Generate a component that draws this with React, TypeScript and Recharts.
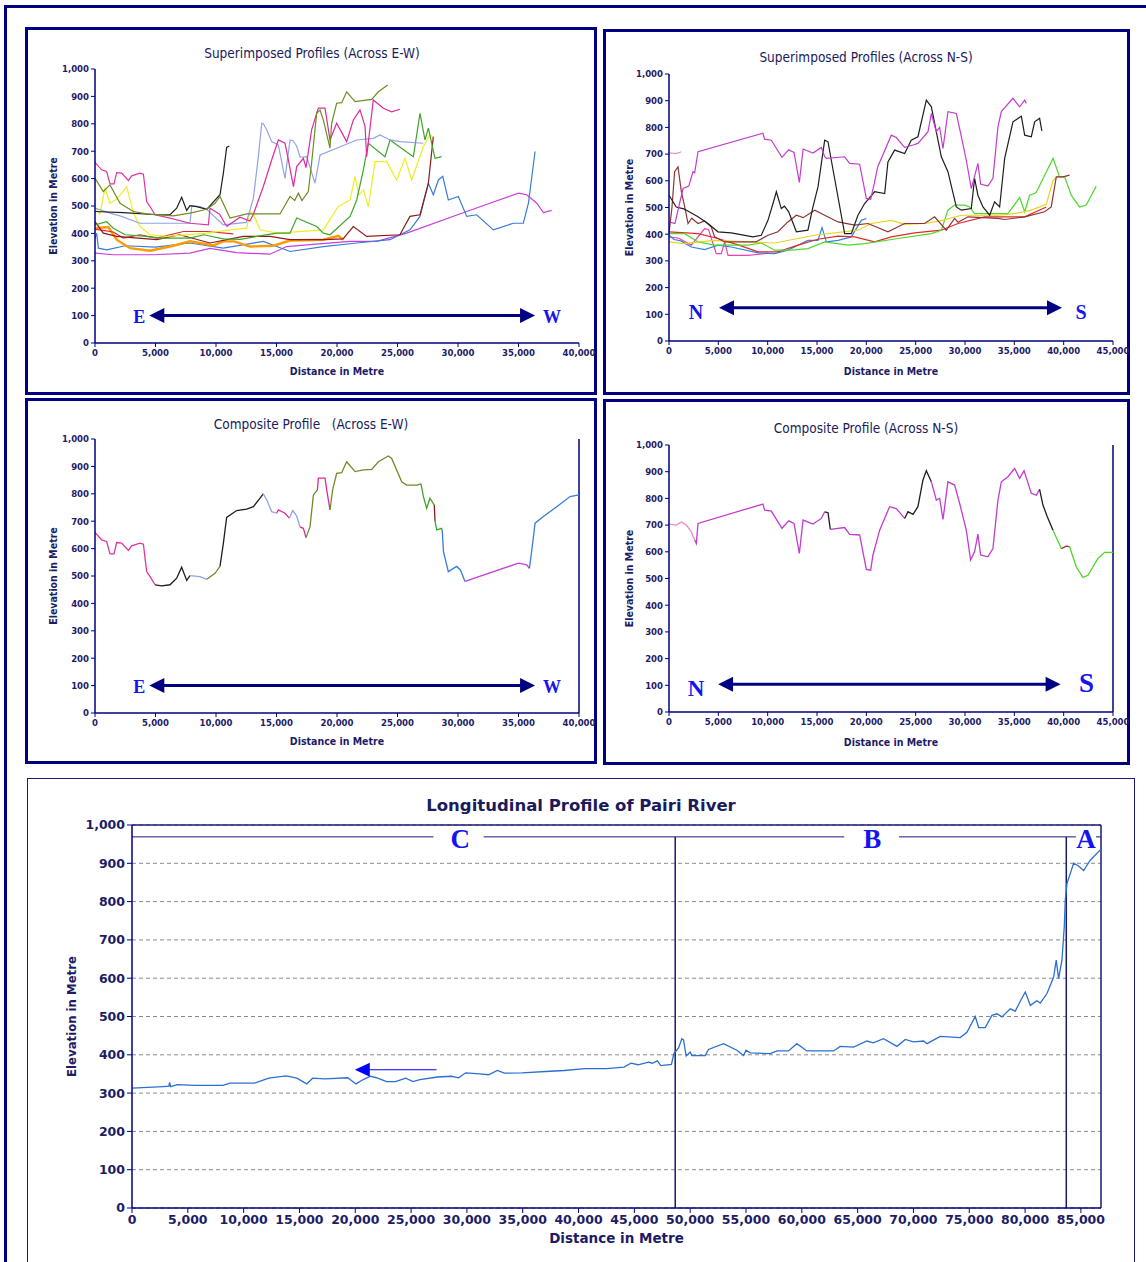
import React from 'react';
import { LineChart, Line, XAxis, YAxis, ReferenceLine, ReferenceDot, CartesianGrid } from 'recharts';

type Pt = [number, number];

// distance (m) / elevation (m)

// --- superimposed profiles, across E-W
const ewPink: Pt[] = [[0, 659], [550, 632], [960, 626], [1240, 581], [1570, 581], [1790, 622], [2200, 620], [2760, 593], [3030, 610], [3720, 620], [4000, 616], [4270, 516], [4550, 498], [4960, 468], [6200, 456], [7850, 437], [9370, 431], [9500, 492], [10300, 470], [10880, 425]];
const ewOlive: Pt[] = [[0, 601], [690, 553], [1240, 577], [2070, 510], [3170, 480], [4270, 471], [6470, 464], [7850, 474], [9230, 488], [9920, 510], [10330, 535], [11160, 456], [12540, 471], [15290, 471], [16120, 535], [16500, 520], [16810, 547], [17100, 520], [17630, 553], [17900, 656], [18320, 838], [18600, 850], [18870, 814], [19420, 711], [19560, 802], [19970, 875], [20390, 877], [20800, 917], [21490, 881], [22870, 889], [23420, 917], [24190, 942]];
const ewBlack: Pt[] = [[0, 480], [2340, 476], [5100, 468], [6200, 468], [6750, 492], [7160, 532], [7580, 484], [7850, 501], [8400, 498], [9230, 488], [10330, 541], [10610, 620], [10880, 714], [11100, 719]];
const ewPeri: Pt[] = [[0, 492], [1240, 474], [2000, 465], [3720, 437], [7850, 437], [8000, 500], [8680, 498], [9230, 488], [10600, 431], [12500, 440], [13090, 528], [13500, 680], [13780, 802], [13910, 800], [14190, 778], [14600, 735], [15150, 723], [15700, 601], [16120, 741], [16340, 739], [16670, 719], [16950, 678], [17500, 680], [18180, 583], [18600, 686], [19970, 711], [21630, 741], [23000, 747], [23560, 759], [24380, 741], [25200, 735], [27140, 729]];
const ewMagenta: Pt[] = [[10880, 425], [11980, 459], [12800, 445], [13090, 470], [13910, 571], [14600, 668], [15150, 741], [15700, 729], [15980, 668], [16400, 571], [16670, 644], [17220, 674], [17440, 640], [17900, 778], [18460, 857], [19010, 857], [19420, 741], [19970, 802], [20800, 735], [21350, 814], [21900, 851], [22320, 790], [22450, 680], [23000, 887], [23830, 857], [24520, 844], [25200, 853]];
const ewGreen: Pt[] = [[0, 431], [960, 443], [1510, 419], [2500, 395], [4000, 390], [5500, 383], [7850, 383], [9000, 395], [10600, 380], [12000, 378], [13500, 390], [15010, 401], [16120, 401], [16670, 456], [18320, 425], [18870, 401], [19420, 395], [21080, 462], [21630, 522], [22180, 632], [22590, 729], [23970, 680], [24380, 741], [26310, 680], [26860, 838], [27270, 741], [27550, 784], [28100, 674], [28650, 680]];
const ewYellow: Pt[] = [[0, 498], [400, 470], [830, 565], [1240, 510], [1800, 525], [2620, 571], [3170, 474], [3720, 425], [4550, 395], [5920, 389], [9230, 401], [11160, 413], [12540, 419], [12810, 480], [13100, 470], [13640, 413], [15010, 401], [18870, 413], [20110, 498], [21080, 522], [21490, 608], [21800, 540], [22180, 559], [22590, 498], [23140, 662], [24100, 662], [24930, 595], [25620, 674], [26170, 595], [27140, 717], [27680, 759], [27960, 753]];
const ewBrown: Pt[] = [[0, 443], [690, 401], [1790, 389], [5100, 377], [7000, 395], [9500, 365], [12260, 389], [14460, 389], [16120, 377], [18870, 377], [20500, 380], [21350, 425], [22450, 389], [25200, 395], [26030, 462], [26860, 468], [27550, 583], [27960, 753]];
const ewRed: Pt[] = [[0, 415], [410, 413], [1500, 405], [2340, 383], [3720, 395], [5100, 383], [7300, 407], [9230, 407], [11430, 398]];
const ewOrange: Pt[] = [[0, 419], [1100, 423], [1790, 377], [2900, 346], [4550, 337], [6470, 355], [7850, 371], [9780, 356], [10600, 371], [11500, 371], [12810, 352], [14740, 355], [16120, 374], [18870, 377], [20110, 391], [20530, 377]];
const ewBlue: Pt[] = [[0, 383], [140, 400], [280, 346], [960, 340], [2500, 355], [5000, 350], [7850, 365], [10600, 346], [13910, 371], [16120, 334], [18870, 352], [21630, 365], [24380, 377], [26030, 413], [26860, 462], [27550, 583], [27960, 541], [28380, 595], [28740, 608], [29200, 522], [30030, 535], [30720, 462], [31540, 468], [32920, 413], [34570, 437], [35400, 437], [35820, 510], [36370, 699]];
const ewPurple: Pt[] = [[0, 328], [1510, 322], [4820, 322], [7850, 328], [9500, 345], [11710, 330], [14460, 324], [15840, 352], [18000, 360], [21080, 371], [23280, 371], [25760, 401], [30720, 480], [35000, 547], [35680, 541], [36510, 510], [37060, 476], [37740, 484]];

// --- superimposed profiles, across N-S
const nsPinkTop: Pt[] = [[0, 705], [740, 702], [1250, 709]];
const nsPurple: Pt[] = [[0, 446], [600, 440], [1420, 571], [2000, 580], [2430, 634], [2600, 630], [2940, 709], [9520, 778], [9690, 756], [10370, 752], [11450, 688], [12130, 716], [12670, 706], [13210, 594], [13590, 719], [14590, 704], [15440, 725], [15780, 690], [15950, 684], [17800, 690], [18310, 665], [19320, 662], [20000, 534], [20440, 531], [20810, 590], [21150, 652], [22530, 771], [23040, 762], [23880, 725], [24730, 734], [25230, 740], [26250, 784], [26590, 852], [27090, 784], [27430, 800], [27770, 721], [28270, 859], [29120, 852], [29630, 765], [30130, 677], [30640, 571], [31310, 665], [31580, 588], [32320, 580], [32830, 609], [33340, 802], [33680, 859], [34860, 909], [35540, 877], [36050, 902], [36220, 890]];
const nsBlack: Pt[] = [[0, 546], [740, 502], [1500, 495], [2940, 465], [3950, 440], [4960, 409], [6310, 405], [8510, 390], [9350, 396], [10030, 452], [10540, 515], [10880, 559], [11380, 496], [11700, 505], [12130, 484], [12910, 409], [14080, 415], [14590, 502], [15100, 577], [15780, 752], [16120, 746], [16450, 677], [17800, 402], [18480, 402], [19150, 471], [19830, 515], [20840, 559], [21860, 552], [22190, 671], [22870, 715], [23880, 702], [24550, 752], [25230, 765], [26080, 902], [26590, 877], [27600, 690], [28270, 634], [29120, 502], [29630, 490], [30640, 496], [30970, 609], [31310, 546], [31820, 502], [32500, 471], [33000, 521], [33510, 502], [34020, 684], [34860, 821], [35710, 842], [36050, 771], [36720, 765], [37060, 821], [37560, 834], [37790, 787]];
const nsBrown: Pt[] = [[0, 402], [300, 500], [570, 634], [910, 652], [1250, 560], [1590, 502], [1930, 440], [2300, 460], [2940, 440], [3600, 450], [4290, 427], [4620, 390], [5640, 371], [7660, 371], [8800, 371], [10030, 396], [11040, 409], [12050, 446], [12910, 471], [13600, 462], [14770, 490], [15780, 471], [17130, 446], [18820, 434], [20170, 440], [22190, 409], [23880, 440], [25900, 440], [26920, 465], [28100, 415], [28950, 459], [29300, 445], [30300, 465], [33340, 459], [34020, 455], [36050, 465], [38070, 484], [38740, 502], [39250, 615], [39930, 615], [40600, 621]];
const nsYellow: Pt[] = [[0, 371], [1500, 365], [4620, 377], [8000, 371], [10710, 367], [14770, 396], [19150, 415], [20500, 440], [22530, 452], [23880, 437], [25900, 440], [27500, 450], [29630, 471], [31650, 471], [33340, 471], [35030, 477], [36720, 490], [38240, 512], [38920, 602], [39590, 621]];
const nsGreen: Pt[] = [[0, 402], [1590, 402], [2940, 371], [4620, 359], [8000, 359], [9350, 367], [10710, 340], [12390, 340], [14080, 346], [15780, 371], [18140, 359], [19830, 365], [23200, 384], [26590, 402], [27600, 415], [28270, 490], [28950, 509], [29960, 509], [30470, 502], [30970, 477], [33340, 477], [34350, 477], [35540, 537], [36050, 484], [36550, 546], [37200, 555], [38070, 621], [38920, 684], [39590, 615], [40100, 615], [40770, 546], [41610, 502], [42290, 509], [43300, 580]];
const nsRed: Pt[] = [[0, 409], [2940, 402], [4960, 384], [7000, 360], [9020, 334], [11040, 334], [13070, 359], [15100, 381], [17130, 393], [18820, 390], [20840, 371], [22530, 390], [24890, 405], [27600, 415], [29290, 440], [31990, 465], [34020, 465], [36050, 465], [38240, 502]];
const nsBlue: Pt[] = [[0, 396], [500, 380], [1200, 375], [2260, 352], [3610, 342], [4960, 359], [6310, 352], [9020, 330], [10710, 327], [12050, 340], [14080, 377], [15100, 377], [15510, 425], [15950, 371], [17130, 377], [18480, 390], [19490, 452], [20000, 459]];
const nsPink: Pt[] = [[0, 390], [1000, 385], [2260, 359], [3610, 421], [4000, 418], [4790, 327], [5300, 327], [5640, 371], [5980, 321], [8000, 321], [9690, 327], [10000, 330]];

// --- composite profiles (highest of the superimposed lines)
const ewComposite: Pt[] = [[0, 659], [550, 632], [960, 626], [1240, 581], [1570, 581], [1790, 622], [2200, 620], [2760, 593], [3030, 610], [3720, 620], [4000, 616], [4270, 516], [4550, 498], [4960, 468], [5510, 464], [6200, 468], [6750, 492], [7160, 532], [7580, 484], [7850, 501], [8680, 498], [9230, 488], [9920, 510], [10330, 535], [10610, 620], [10880, 714], [11710, 739], [12540, 744], [13090, 753], [13640, 784], [13910, 800], [14190, 778], [14600, 735], [15010, 729], [15150, 741], [15700, 729], [16060, 711], [16340, 739], [16670, 719], [16950, 678], [17220, 674], [17440, 640], [17770, 680], [18050, 796], [18380, 814], [18460, 857], [19010, 857], [19150, 814], [19420, 741], [19640, 814], [19970, 875], [20390, 877], [20800, 917], [21490, 881], [22180, 887], [22870, 889], [23420, 917], [24240, 938], [24520, 929], [25350, 844], [25760, 832], [26580, 832], [26940, 836], [27140, 790], [27410, 747], [27680, 784], [28040, 759], [28100, 700], [28240, 668], [28650, 674], [28700, 665], [28800, 589], [29200, 516], [29890, 535], [30200, 522], [30580, 480], [35000, 547], [35680, 541], [35900, 528], [36100, 595], [36370, 693], [37060, 717], [38160, 753], [39260, 790], [40000, 796]];
const nsComposite: Pt[] = [[0, 704], [740, 700], [1250, 712], [1760, 700], [2260, 675], [2600, 644], [2770, 631], [2940, 706], [9520, 779], [9690, 756], [10370, 752], [11450, 688], [12130, 716], [12670, 706], [13210, 594], [13590, 719], [14590, 704], [15440, 725], [15780, 750], [16120, 746], [16350, 684], [17800, 691], [18310, 665], [19320, 663], [20000, 534], [20440, 531], [20670, 588], [21350, 681], [22360, 769], [23040, 762], [23880, 725], [24220, 750], [24730, 740], [25230, 769], [25740, 869], [26080, 904], [26590, 862], [27090, 794], [27430, 800], [27770, 721], [28270, 862], [28950, 850], [29460, 781], [30130, 681], [30570, 569], [30970, 600], [31310, 666], [31580, 588], [32320, 581], [32830, 612], [33340, 794], [33680, 862], [34350, 881], [35030, 912], [35540, 875], [35980, 904], [36720, 819], [37230, 812], [37560, 834], [37900, 775], [38340, 731], [38920, 681], [39760, 612], [40260, 621], [40600, 619], [41270, 544], [41950, 504], [42460, 512], [43470, 575], [44150, 598], [45000, 598]];

// --- longitudinal profile of the river
const riverProfile: Pt[] = [[0, 313], [2800, 317], [3300, 318], [3370, 328], [3450, 317], [4060, 322], [5630, 320], [8150, 320], [8780, 326], [10980, 326], [12250, 339], [13820, 345], [14770, 339], [15650, 324], [16180, 339], [17280, 337], [19330, 340], [20060, 324], [20750, 336], [21380, 344], [22010, 339], [22800, 330], [23590, 330], [24530, 339], [25160, 330], [25790, 335], [27370, 342], [28630, 344], [29260, 340], [29890, 353], [31150, 350], [31940, 348], [32730, 359], [33360, 352], [34930, 353], [37450, 357], [38710, 359], [40600, 364], [42490, 364], [44070, 368], [44700, 378], [45330, 374], [46270, 381], [46600, 378], [47060, 384], [47370, 372], [48320, 375], [48540, 403], [48960, 418], [49250, 442], [49400, 439], [49640, 397], [50000, 407], [50150, 398], [51340, 398], [51640, 414], [52990, 429], [54180, 412], [54780, 398], [55000, 412], [55380, 405], [57170, 403], [57770, 410], [58810, 410], [59560, 429], [60450, 410], [62840, 410], [63440, 422], [64640, 420], [65830, 436], [66400, 431], [67320, 442], [68520, 422], [69270, 440], [70010, 434], [70910, 436], [71210, 429], [72400, 448], [74190, 445], [74790, 459], [75540, 500], [75840, 471], [76430, 471], [77030, 503], [77480, 507], [77930, 499], [78670, 520], [79120, 514], [79570, 540], [80020, 564], [80470, 529], [81060, 541], [81360, 535], [81960, 560], [82560, 603], [82790, 647], [83000, 599], [83300, 647], [83510, 734], [83600, 804], [83750, 847], [84350, 900], [84790, 893], [85240, 881], [85840, 908], [86740, 935]];

// river reaches: boundaries and label positions
const reachBounds = [48660, 83690];
const reachLabels: [string, number][] = [['C', 29400], ['B', 66300], ['A', 85450]];
const reachLineGaps: Pt[] = [[0, 27000], [31500, 48660], [48660, 63800], [68700, 83690], [83690, 84550], [86350, 86800]];

const elevTicks = [0, 100, 200, 300, 400, 500, 600, 700, 800, 900, 1000];
const ewTicks = [0, 5000, 10000, 15000, 20000, 25000, 30000, 35000, 40000];
const nsTicks = [0, 5000, 10000, 15000, 20000, 25000, 30000, 35000, 40000, 45000];
const riverTicks = [0, 5000, 10000, 15000, 20000, 25000, 30000, 35000, 40000, 45000, 50000, 55000, 60000, 65000, 70000, 75000, 80000, 85000];

const NAVY = '#000080';
const INK = '#1c1c66';
const LETTER = '#1414ee';
const NARROW = '"DejaVu Sans Condensed", "DejaVu Sans", sans-serif';
const WIDE = '"DejaVu Sans", Verdana, sans-serif';
const SERIF = '"Liberation Serif", "DejaVu Serif", serif';

const col = {
  pink: '#E0359E', olive: '#6E8C26', black: '#1e1e1e', peri: '#8FA3E6', magenta: '#E0289E',
  green: '#3FA42A', yellow: '#EEEE22', brown: '#8B1A1A', red: '#E02A2A', orange: '#FF9A00',
  blue: '#3A7BD5', purple: '#C63FDB', lime: '#4CD92A', gold: '#E8D41E', nsBrown: '#8E3434',
  sky: '#2F86E0', rose: '#EE3FAE', lightPink: '#F08AC8', nsPurple: '#C23CCF', river: '#2B6FD3',
};

const ewSeries: { pts: Pt[]; color: string; w?: number }[] = [
  { pts: ewPurple, color: col.purple }, { pts: ewBlue, color: col.blue }, { pts: ewOrange, color: col.orange, w: 2.4 },
  { pts: ewRed, color: col.red }, { pts: ewBrown, color: col.brown }, { pts: ewYellow, color: col.yellow },
  { pts: ewGreen, color: col.green }, { pts: ewPeri, color: col.peri }, { pts: ewBlack, color: col.black },
  { pts: ewPink, color: col.pink }, { pts: ewMagenta, color: col.magenta }, { pts: ewOlive, color: col.olive },
];
const nsSeries: { pts: Pt[]; color: string; w?: number }[] = [
  { pts: nsPink, color: col.rose }, { pts: nsBlue, color: col.sky }, { pts: nsRed, color: col.red },
  { pts: nsGreen, color: col.lime }, { pts: nsYellow, color: col.gold }, { pts: nsBrown, color: col.nsBrown },
  { pts: nsBlack, color: col.black }, { pts: nsPurple, color: col.nsPurple }, { pts: nsPinkTop, color: col.lightPink },
];
// [first index, last index, colour] of each coloured piece of a composite
const ewPieces: [number, number, string][] = [
  [0, 13, col.pink], [13, 19, col.black], [19, 21, col.peri], [21, 23, col.olive], [23, 30, col.black],
  [30, 33, col.peri], [33, 36, col.magenta], [36, 39, col.peri], [39, 41, col.magenta], [41, 44, col.olive],
  [44, 48, col.magenta], [48, 62, col.olive], [62, 66, col.green], [66, 67, col.brown], [67, 70, col.green],
  [70, 75, col.blue], [75, 78, col.purple], [78, 84, col.blue],
];
const nsPieces: [number, number, string][] = [
  [0, 5, col.lightPink], [5, 18, col.nsPurple], [18, 20, col.black], [20, 30, col.nsPurple], [30, 36, col.black],
  [36, 58, col.nsPurple], [58, 61, col.black], [61, 62, col.lime], [62, 64, col.nsBrown], [64, 70, col.lime],
];

const rows = (pts: Pt[]) => pts.map(([x, y]) => ({ x, y }));
const fmt = (v: number) => v.toLocaleString('en-US');

type Plot = { x0: number; x1: number; y0: number; y1: number };
const PLOT_TL: Plot = { x0: 95, x1: 579, y0: 69, y1: 343 };
const PLOT_TR: Plot = { x0: 669, x1: 1113, y0: 74, y1: 341 };
const PLOT_ML: Plot = { x0: 95, x1: 579, y0: 439, y1: 713 };
const PLOT_MR: Plot = { x0: 669, x1: 1113, y0: 445, y1: 712 };
const PLOT_RIVER: Plot = { x0: 132, x1: 1101, y0: 825, y1: 1208 };

const series = (list: { pts: Pt[]; color: string; w?: number }[], tag: string) =>
  list.map((s, i) => (
    <Line key={`${tag}-${i}`} data={rows(s.pts)} dataKey="y" type="linear" stroke={s.color}
      strokeWidth={s.w ?? 1.2} dot={false} activeDot={false} isAnimationActive={false} />
  ));

const pieces = (pts: Pt[], parts: [number, number, string][], tag: string) =>
  parts.map(([a, b, c], i) => (
    <Line key={`${tag}-${i}`} data={rows(pts.slice(a, b + 1))} dataKey="y" type="linear" stroke={c}
      strokeWidth={1.3} dot={false} activeDot={false} isAnimationActive={false} />
  ));

const yTitle = (text: string, dx: number, size: number, family: string) => (p: any) => {
  const vb = p.viewBox || {};
  const cx = vb.x + vb.width / 2 + dx;
  const cy = vb.y + vb.height / 2;
  return (
    <text x={cx} y={cy} transform={`rotate(-90, ${cx}, ${cy})`} textAnchor="middle" dominantBaseline="central"
      fontFamily={family} fontWeight={700} fontSize={size} fill={INK}>{text}</text>
  );
};
const xTitle = (text: string, dy: number, size: number, family: string) => (p: any) => {
  const vb = p.viewBox || {};
  return (
    <text x={vb.x + vb.width / 2} y={vb.y + dy} textAnchor="middle" dominantBaseline="central"
      fontFamily={family} fontWeight={700} fontSize={size} fill={INK}>{text}</text>
  );
};

// double headed compass arrow with its two letters
const compass = (left: string, right: string, o: { lx: number; ly: number; ls: number; rx: number; ry: number; rs: number }) =>
  (p: any) => {
    const a = Math.min(p.x1, p.x2);
    const b = Math.max(p.x1, p.x2);
    const y = p.y1;
    return (
      <g>
        <line x1={a + 12} y1={y} x2={b - 12} y2={y} stroke={NAVY} strokeWidth={3} />
        <polygon points={`${a},${y} ${a + 15},${y - 7.5} ${a + 15},${y + 7.5}`} fill={NAVY} />
        <polygon points={`${b},${y} ${b - 15},${y - 7.5} ${b - 15},${y + 7.5}`} fill={NAVY} />
        <text x={a + o.lx} y={y + o.ly} textAnchor="middle" dominantBaseline="central" fontFamily={SERIF}
          fontWeight={700} fontSize={o.ls} fill={LETTER}>{left}</text>
        <text x={b + o.rx} y={y + o.ry} textAnchor="middle" dominantBaseline="central" fontFamily={SERIF}
          fontWeight={700} fontSize={o.rs} fill={LETTER}>{right}</text>
      </g>
    );
  };

const backArrow = (p: any) => {
  const tip = Math.min(p.x1, p.x2);
  const tail = Math.max(p.x1, p.x2);
  const y = p.y1;
  return (
    <g>
      <line x1={tip + 10} y1={y} x2={tail} y2={y} stroke="#0000ff" strokeWidth={1.2} />
      <polygon points={`${tip},${y} ${tip + 15},${y - 7} ${tip + 15},${y + 7}`} fill="#0000ff" />
    </g>
  );
};

function SmallChart({ plot, xMax, xTicks, yDx, xDy, right, children }: {
  plot: Plot; xMax: number; xTicks: number[]; yDx: number; xDy: number; right?: boolean; children: React.ReactNode;
}) {
  const yw = 70, top = 14, mr = 40, xh = 44;
  const tick = { fill: INK, fontSize: 9.5, fontWeight: 700, fontFamily: NARROW };
  return (
    <div style={{ position: 'absolute', left: plot.x0 - yw, top: plot.y0 - top }}>
      <LineChart width={yw + plot.x1 - plot.x0 + mr} height={top + plot.y1 - plot.y0 + xh}
        margin={{ top, right: mr, bottom: 0, left: 0 }}>
        <XAxis type="number" dataKey="x" domain={[0, xMax]} ticks={xTicks} interval={0} tickFormatter={fmt}
          height={xh} tick={tick} tickSize={4} tickMargin={2} allowDataOverflow
          axisLine={{ stroke: NAVY, strokeWidth: 1.5 }} tickLine={{ stroke: NAVY }}
          label={xTitle('Distance in Metre', xDy, 10.5, NARROW)} />
        <YAxis type="number" domain={[0, 1000]} ticks={elevTicks} interval={0} tickFormatter={fmt}
          width={yw} tick={tick} tickSize={4} tickMargin={2} allowDataOverflow
          axisLine={{ stroke: NAVY, strokeWidth: 1.5 }} tickLine={{ stroke: NAVY }}
          label={yTitle('Elevation in Metre', yDx, 10.5, NARROW)} />
        {right && <ReferenceLine x={xMax} stroke={NAVY} strokeWidth={1.5} />}
        {children}
      </LineChart>
    </div>
  );
}

const Title = ({ text, cx, cy, size, bold, family }: { text: string; cx: number; cy: number; size: number; bold?: boolean; family: string }) => (
  <div style={{
    position: 'absolute', left: cx - 250, top: cy - 10, width: 500, lineHeight: '20px', textAlign: 'center',
    whiteSpace: 'pre', fontFamily: family, fontSize: size, fontWeight: bold ? 700 : 400, color: '#1a1a5c',
  }}>{text}</div>
);

const Box = ({ l, t, w, h, bw, c }: { l: number; t: number; w: number; h: number; bw: number; c?: string }) => (
  <div style={{ position: 'absolute', left: l, top: t, width: w, height: h, boxSizing: 'border-box', border: `${bw}px solid ${c ?? NAVY}` }} />
);

export default function App() {
  const ewArrow = compass('E', 'W', { lx: -10, ly: 1, ls: 18, rx: 17, ry: 1, rs: 18 });
  const riverTick = { fill: INK, fontSize: 12.5, fontWeight: 700, fontFamily: WIDE };
  return (
    <div style={{ position: 'absolute', left: 0, top: 0, width: 1146, height: 1262, overflow: 'hidden', background: '#fff' }}>
      <Box l={4} t={5} w={1200} h={1300} bw={3} />
      <Box l={25} t={27} w={572} h={368} bw={3} />
      <Box l={603} t={29} w={527} h={366} bw={3} />
      <Box l={25} t={398} w={572} h={366} bw={3} />
      <Box l={603} t={399} w={527} h={366} bw={3} />
      <Box l={27} t={778} w={1108} h={520} bw={1.5} c="#1a1a7a" />

      <Title text="Superimposed Profiles (Across E-W)" cx={312} cy={53} size={13.5} family={NARROW} />
      <Title text="Superimposed Profiles (Across N-S)" cx={866} cy={57} size={13.5} family={NARROW} />
      <Title text="Composite Profile   (Across E-W)" cx={311} cy={424} size={13.5} family={NARROW} />
      <Title text="Composite Profile (Across N-S)" cx={866} cy={428} size={13.5} family={NARROW} />
      <Title text="Longitudinal Profile of Pairi River" cx={581} cy={806} size={16.5} bold family={WIDE} />

      <SmallChart plot={PLOT_TL} xMax={40000} xTicks={ewTicks} yDx={-7} xDy={28}>
        {series(ewSeries, 'ew')}
        <ReferenceLine segment={[{ x: 4490, y: 100 }, { x: 36370, y: 100 }]} shape={ewArrow} />
      </SmallChart>

      <SmallChart plot={PLOT_TR} xMax={45000} xTicks={nsTicks} yDx={-5} xDy={30}>
        {series(nsSeries, 'ns')}
        <ReferenceLine segment={[{ x: 5070, y: 125 }, { x: 39830, y: 125 }]}
          shape={compass('N', 'S', { lx: -23, ly: 4, ls: 20, rx: 19, ry: 4, rs: 20 })} />
      </SmallChart>

      <SmallChart plot={PLOT_ML} xMax={40000} xTicks={ewTicks} yDx={-7} xDy={28} right>
        {pieces(ewComposite, ewPieces, 'ewc')}
        <ReferenceLine segment={[{ x: 4490, y: 100 }, { x: 36370, y: 100 }]} shape={ewArrow} />
      </SmallChart>

      <SmallChart plot={PLOT_MR} xMax={45000} xTicks={nsTicks} yDx={-5} xDy={30} right>
        {pieces(nsComposite, nsPieces, 'nsc')}
        <ReferenceLine segment={[{ x: 4970, y: 104 }, { x: 39690, y: 104 }]}
          shape={compass('N', 'S', { lx: -22, ly: 4, ls: 23, rx: 26, ry: -1, rs: 27 })} />
      </SmallChart>

      <div style={{ position: 'absolute', left: PLOT_RIVER.x0 - 80, top: PLOT_RIVER.y0 - 14 }}>
        <LineChart width={80 + PLOT_RIVER.x1 - PLOT_RIVER.x0 + 40} height={14 + PLOT_RIVER.y1 - PLOT_RIVER.y0 + 44}
          margin={{ top: 14, right: 40, bottom: 0, left: 0 }}>
          <CartesianGrid vertical={false} stroke="#8a8a8a" strokeDasharray="4 3" />
          <XAxis type="number" dataKey="x" domain={[0, 86800]} ticks={riverTicks} interval={0} tickFormatter={fmt}
            height={44} tick={riverTick} tickSize={5} tickMargin={2} allowDataOverflow
            axisLine={{ stroke: NAVY, strokeWidth: 1.5 }} tickLine={{ stroke: NAVY }}
            label={xTitle('Distance in Metre', 30, 13.5, WIDE)} />
          <YAxis type="number" domain={[0, 1000]} ticks={elevTicks} interval={0} tickFormatter={fmt}
            width={80} tick={riverTick} tickSize={5} tickMargin={2} allowDataOverflow
            axisLine={{ stroke: NAVY, strokeWidth: 1.5 }} tickLine={{ stroke: NAVY }}
            label={yTitle('Elevation in Metre', -21, 13, NARROW)} />
          <ReferenceLine y={1000} stroke="#1a1a7a" strokeWidth={1.5} />
          <ReferenceLine x={86800} stroke="#1a1a7a" strokeWidth={1.5} />
          {reachLineGaps.map(([a, b], i) => (
            <ReferenceLine key={`gap-${i}`} segment={[{ x: a, y: 969 }, { x: b, y: 969 }]} stroke="#1a1a7a" strokeWidth={1} />
          ))}
          {reachBounds.map((x) => (
            <ReferenceLine key={`bound-${x}`} segment={[{ x, y: 0 }, { x, y: 969 }]} stroke="#1a1a6a" strokeWidth={1.5} />
          ))}
          <Line data={rows(riverProfile)} dataKey="y" type="linear" stroke={col.river} strokeWidth={1.3}
            dot={false} activeDot={false} isAnimationActive={false} />
          <ReferenceLine segment={[{ x: 27270, y: 361 }, { x: 19960, y: 361 }]} shape={backArrow} />
          {reachLabels.map(([t, x]) => (
            <ReferenceDot key={t} x={x} y={969} r={0} shape={(p: any) => (
              <text x={p.cx} y={p.cy + 2} textAnchor="middle" dominantBaseline="central" fontFamily={SERIF}
                fontWeight={700} fontSize={27} fill={LETTER}>{t}</text>
            )} />
          ))}
        </LineChart>
      </div>
    </div>
  );
}
